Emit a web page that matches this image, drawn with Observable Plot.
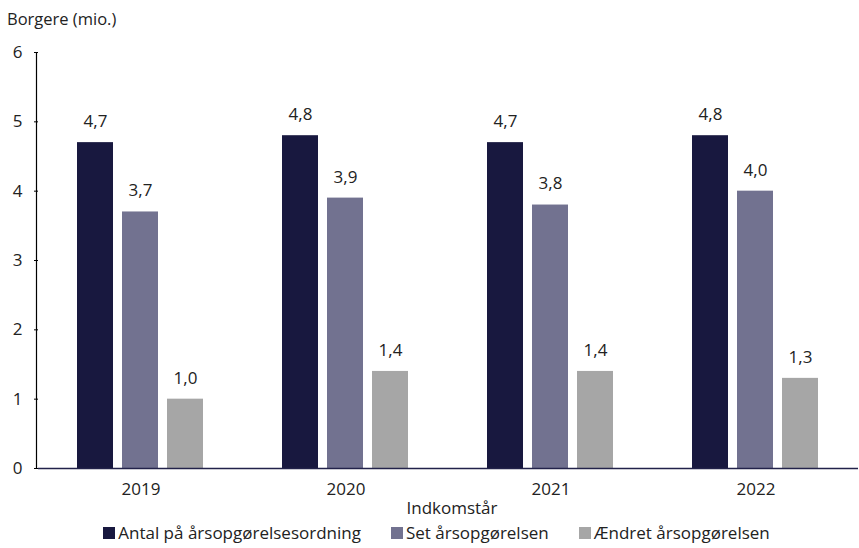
<!DOCTYPE html>
<html><head><meta charset="utf-8">
<script src="https://cdn.jsdelivr.net/npm/d3@7"></script>
<script src="https://cdn.jsdelivr.net/npm/@observablehq/plot@0.6"></script>
<style>
body{margin:0;background:#fff;font-family:"Open Sans",sans-serif;color:#222;}
#title{height:38px;font-size:16.5px;padding-left:7px;line-height:38px;}
#legend{display:flex;justify-content:center;gap:30px;font-size:17px;margin-top:3px;padding-left:14px;line-height:20px;}
#legend span.sw{display:inline-block;width:12px;height:12px;margin-right:3px;vertical-align:0px;}
</style></head>
<body>
<div id="title">Borgere (mio.)</div>
<div id="chart"></div>
<div id="legend"></div>
<script>
const years = ["2019","2020","2021","2022"];
const series = ["Antal på årsopgørelsesordning","Set årsopgørelsen","Ændret årsopgørelsen"];
const colors = ["#18183f","#727290","#a6a6a6"];
const antal = [4.7,4.8,4.7,4.8];
const set = [3.7,3.9,3.8,4.0];
const aendret = [1.0,1.4,1.4,1.3];
const yTicks = [0,1,2,3,4,5,6];

const vals = [antal,set,aendret];
const data = [];
years.forEach((y,i)=>series.forEach((s,j)=>data.push({year:y,series:s,value:vals[j][i]})));
const fmt = v => v.toFixed(1).replace(".",",");

const chart = Plot.plot({
  width:859, height:482,
  marginLeft:36, marginRight:0, marginTop:14, marginBottom:52,
  style:{fontFamily:"'Open Sans', sans-serif", fontSize:"17px", color:"#222", overflow:"visible"},
  fx:{domain:years, padding:0, label:null, axis:null},
  x:{domain:series, paddingInner:0.196, paddingOuter:0.83, axis:null},
  y:{domain:[0,6], ticks:yTicks, label:null},
  color:{domain:series, range:colors},
  marks:[
    Plot.barY(data,{fx:"year",x:"series",y:"value",fill:"series"}),
    Plot.text(data,{fx:"year",x:"series",y:"value",text:d=>fmt(d.value),dy:-21,fontSize:17,fill:"#222"}),
    Plot.axisY({ticks:yTicks, tickSize:4, tickPadding:12, fontSize:17, label:null, tickFormat:d=>d, stroke:"#000"}),
    Plot.axisFx({domain:years, anchor:"bottom", tickSize:0, tickPadding:14, fontSize:17, label:null}),
    Plot.ruleY([0],{stroke:"#22224a", strokeWidth:1.5})
  ]
});
document.getElementById("chart").appendChild(chart);
const y = chart.scale("y");
const svg = d3.select(chart);
svg.append("line").attr("x1",36.5).attr("x2",36.5)
  .attr("y1",y.apply(6)).attr("y2",y.apply(0)).attr("stroke","#000").attr("stroke-width",1.2);
svg.append("text").attr("x",452).attr("y",476).attr("text-anchor","middle")
  .attr("font-size",17).attr("fill","#222").attr("font-family","'Open Sans', sans-serif").text("Indkomstår");

const lg = document.getElementById("legend");
series.forEach((s,i)=>{
  const d=document.createElement("div");
  d.innerHTML=`<span class="sw" style="background:${colors[i]}"></span>${s}`;
  lg.appendChild(d);
});
</script>
</body></html>
